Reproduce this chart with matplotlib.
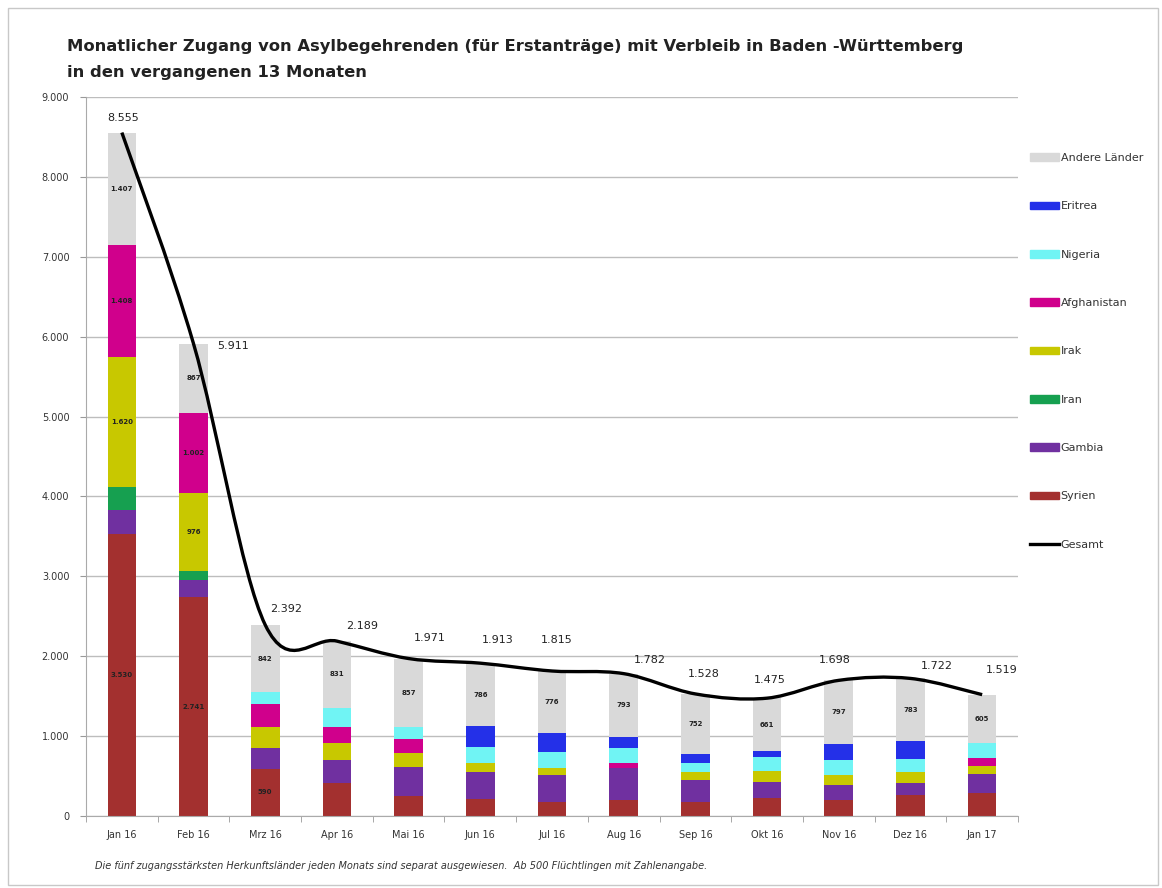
import matplotlib
matplotlib.use("Agg")
import matplotlib.pyplot as plt
from matplotlib.path import Path
from matplotlib.patches import PathPatch, Rectangle
from matplotlib.lines import Line2D
import numpy as np

# Zugang je Monat, nach Herkunftsland
months = ["Jan 16", "Feb 16", "Mrz 16", "Apr 16", "Mai 16", "Jun 16", "Jul 16",
          "Aug 16", "Sep 16", "Okt 16", "Nov 16", "Dez 16", "Jan 17"]
syrien = [3530, 2741, 590, 413, 250, 210, 180, 200, 175, 225, 200, 263, 288]
gambia = [300, 213, 255, 288, 363, 341, 333, 400, 276, 201, 188, 150, 238]
iran = [290, 112, 0, 0, 0, 0, 0, 0, 0, 0, 0, 0, 0]
irak = [1620, 976, 265, 213, 176, 112, 87, 0, 100, 137, 125, 138, 100]
afghanistan = [1408, 1002, 290, 200, 175, 0, 0, 63, 0, 0, 0, 0, 100]
nigeria = [0, 0, 150, 244, 150, 200, 200, 188, 112, 176, 188, 163, 188]
eritrea = [0, 0, 0, 0, 0, 264, 239, 138, 113, 75, 200, 225, 0]
andere = [1407, 867, 842, 831, 857, 786, 776, 793, 752, 661, 797, 783, 605]
gesamt = [8555, 5911, 2392, 2189, 1971, 1913, 1815, 1782, 1528, 1475, 1698, 1722, 1519]

series = [
    ("Syrien", syrien, "#a3302f"),
    ("Gambia", gambia, "#7030a0"),
    ("Iran", iran, "#16a050"),
    ("Irak", irak, "#c8c800"),
    ("Afghanistan", afghanistan, "#d0008c"),
    ("Nigeria", nigeria, "#70f4f4"),
    ("Eritrea", eritrea, "#2430e8"),
    ("Andere Länder", andere, "#d9d9d9"),
]

# label offsets for the totals (pixels, right / up)
total_offsets = [(1, 10), (40, -7), (21, 11), (25, 10), (21, 16), (17, 18), (5, 26),
                 (26, 9), (8, 15), (3, 13), (-4, 15), (26, 7), (20, 20)]


def de(v):
    return f"{v:,}".replace(",", ".")


fig = plt.figure(figsize=(11.62, 8.88), dpi=100)
fig.patches.append(Rectangle((8 / 1162, 3 / 888), 1150 / 1162, 877 / 888,
                             transform=fig.transFigure, fill=False,
                             edgecolor="#c8c8c8", lw=1))
ax = fig.add_axes([86 / 1162, 1 - 816 / 888, 932 / 1162, 719 / 888])

x = np.arange(len(months))
bottom = np.zeros(len(months))
handles = []
for name, vals, col in series:
    vals = np.array(vals, dtype=float)
    ax.bar(x, vals, 0.4, bottom=bottom, color=col, zorder=2)
    for xi, b, v in zip(x, bottom, vals):
        if v >= 500:
            ax.text(xi, b + v / 2, de(int(v)), ha="center", va="center",
                    fontsize=5, fontweight="bold", color="#222222", zorder=3)
    bottom += vals
    handles.append((Rectangle((0, 0), 1, 1, color=col), name))

# smoothed total line (cubic Bezier through the monthly totals)
pts = np.column_stack([x, gesamt]).astype(float)
ext = np.vstack([pts[0], pts, pts[-1]])
verts = [tuple(pts[0])]
codes = [Path.MOVETO]
for i in range(len(pts) - 1):
    p0, p1, p2, p3 = ext[i], ext[i + 1], ext[i + 2], ext[i + 3]
    c1 = p1 + (p2 - p0) / 6
    c2 = p2 - (p3 - p1) / 6
    verts += [tuple(c1), tuple(c2), tuple(p2)]
    codes += [Path.CURVE4] * 3
ax.add_patch(PathPatch(Path(verts, codes), fill=False, edgecolor="black",
                       lw=2.4, zorder=4))

for xi, v, off in zip(x, gesamt, total_offsets):
    ax.annotate(de(v), (xi, v), xytext=off, textcoords="offset pixels",
                ha="center", va="bottom", fontsize=8, color="#222222", zorder=5)

ax.set_xlim(-0.5, len(months) - 0.5)
ax.set_ylim(0, 9000)
ax.set_yticks(range(0, 9001, 1000))
ax.set_yticklabels([de(v) for v in range(0, 9001, 1000)], fontsize=7, color="#333333")
ax.set_xticks(x)
ax.set_xticklabels(months, fontsize=7, color="#333333")
ax.set_xticks(np.arange(-0.5, len(months)), minor=True)
ax.tick_params(axis="x", which="major", length=0, pad=10)
ax.tick_params(axis="x", which="minor", length=4, color="#999999")
ax.tick_params(axis="y", length=4, color="#999999", pad=8)
ax.grid(axis="y", color="#bdbdbd", lw=1, zorder=0)
for s in ["top", "right"]:
    ax.spines[s].set_visible(False)
for s in ["left", "bottom"]:
    ax.spines[s].set_color("#aaaaaa")

leg_handles = [h for h, _ in handles][::-1] + [Line2D([], [], color="black", lw=2.4)]
leg_labels = [n for _, n in handles][::-1] + ["Gesamt"]
fig.legend(leg_handles, leg_labels, loc="upper left",
           bbox_to_anchor=(1020 / 1162, 1 - 143 / 888), frameon=False,
           fontsize=8, labelspacing=3.45, handlelength=2.6, handleheight=0.7,
           handletextpad=0.15, labelcolor="#333333")

fig.text(67 / 1162, 1 - 47 / 888,
         "Monatlicher Zugang von Asylbegehrenden (für Erstanträge) mit Verbleib in Baden -Württemberg",
         fontsize=11.8, fontweight="bold", color="#222222", va="center")
fig.text(67 / 1162, 1 - 72 / 888, "in den vergangenen 13 Monaten",
         fontsize=11.8, fontweight="bold", color="#222222", va="center")
fig.text(95 / 1162, 1 - 866 / 888,
         "Die fünf zugangsstärksten Herkunftsländer jeden Monats sind separat ausgewiesen.  Ab 500 Flüchtlingen mit Zahlenangabe.",
         fontsize=7, style="italic", color="#333333", va="center")

fig.savefig("out.png", dpi=100)
